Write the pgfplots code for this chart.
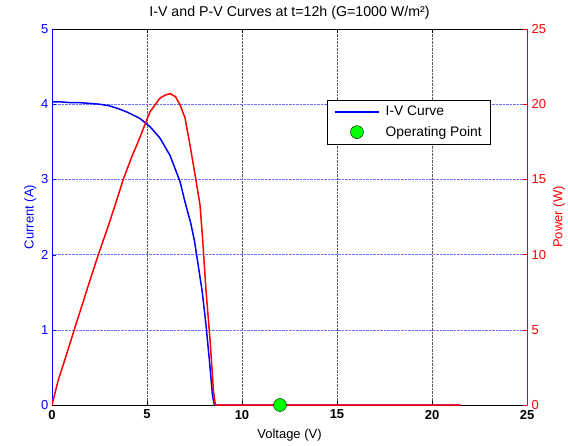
\documentclass[border=0pt]{standalone}
\usepackage{pgfplots}
\pgfplotsset{compat=1.18}
\usepackage{fontspec}
\setmainfont{Liberation Sans}
\definecolor{ivblue}{RGB}{0,0,255}
\definecolor{pvred}{RGB}{255,0,0}
\definecolor{axpurple}{RGB}{140,30,140}
\definecolor{opgreen}{RGB}{0,255,0}
\definecolor{gridblue}{RGB}{110,110,255}

% I-V curve: voltage (V), current (A)
\pgfplotstableread{
V I
0 4.03
0.5 4.03
1 4.02
1.5 4.02
2 4.01
2.5 4.00
3 3.98
3.5 3.94
4 3.89
4.63 3.81
5.16 3.70
5.68 3.55
6.21 3.32
6.74 2.97
7.0 2.70
7.3 2.42
7.5 2.18
7.7 1.85
7.9 1.52
8.1 1.08
8.3 0.55
8.45 0.12
8.55 0
21.5 0
}\ivdata

% P-V curve: voltage (V), power (W)
\pgfplotstableread{
V P
0 0
0.33 1.66
0.7 3.1
1.17 5.0
1.6 6.7
2.0 8.3
2.44 10.0
2.88 11.6
3.3 13.2
3.75 15.0
4.2 16.5
4.63 17.8
5.16 19.5
5.68 20.4
5.95 20.6
6.21 20.7
6.5 20.5
6.74 19.95
7.0 19.1
7.26 17.3
7.53 15.3
7.79 13.3
7.93 11.0
8.1 7.7
8.32 4.3
8.5 0.9
8.6 0
21.5 0
}\pvdata

\pgfplotsset{
  common/.style={
    scale only axis, width=475pt, height=376pt,
    xmin=0, xmax=25, xtick={0,5,...,25},
    tick align=inside, major tick length=4pt,
    separate axis lines,
    /pgf/number format/assume math mode=true,
  },
  longline/.style={legend image code/.code={%
    \draw[ivblue, line width=1.5pt] (0pt,0pt) -- (44pt,0pt);}},
  midmark/.style={legend image code/.code={\draw[#1] plot coordinates {(22pt,0pt)};}},
}

\begin{document}
\begin{tikzpicture}[font=\fontsize{13}{15}\selectfont]
\begin{axis}[common, name=left,
  axis x line*=box, axis y line*=left,
  x axis line style={black, -}, y axis line style={ivblue, -},
  ymin=0, ymax=5, ytick={0,...,5},
  xtick style={black}, ytick style={ivblue},
  xticklabel style={black, yshift=-1.5pt, font=\fontsize{13}{15}\selectfont\bfseries},
  yticklabel style={ivblue},
  xmajorgrids, ymajorgrids,
  major x grid style={densely dotted, gray!70!black, line width=0.5pt},
  major y grid style={densely dotted, gridblue, line width=0.5pt},
  xlabel={Voltage (V)}, ylabel={Current (A)},
  xlabel style={yshift=-2.5pt},
  ylabel style={ivblue, yshift=-2pt},
  title={I-V and P-V Curves at t=12h (G=1000 W/m²)},
  title style={font=\fontsize{14.2}{16}\selectfont},
]
\addplot[ivblue, line width=1.5pt] table[x=V, y=I] {\ivdata};
\end{axis}
\begin{axis}[common,
  axis x line=none, axis y line*=right,
  y axis line style={axpurple, -},
  ymin=0, ymax=25, ytick={0,5,...,25},
  ytick style={pvred}, yticklabel style={pvred, xshift=1pt},
  ylabel={Power (W)}, ylabel style={pvred},
  legend style={at={(0.579,0.811)}, anchor=north west, draw=black, fill=white,
    font=\fontsize{13.8}{15}\selectfont, row sep=5pt, column sep=4pt,
    inner xsep=7pt, inner ysep=4pt},
  legend cell align=left,
]
\addlegendimage{ivblue, line width=1.5pt, longline}
\addlegendentry{I-V Curve}
\addplot[pvred, line width=1.5pt, forget plot] table[x=V, y=P] {\pvdata};
\addplot[only marks, mark=*, mark size=6.5pt, mark options={fill=opgreen, draw=black}, midmark]
  coordinates {(12,0)};
\addlegendentry{Operating Point}
\end{axis}
\pgfresetboundingbox
\path[use as bounding box] ([xshift=-52pt,yshift=-40pt]left.south west)
  rectangle ([xshift=41pt,yshift=29pt]left.north east);
\end{tikzpicture}
\end{document}
